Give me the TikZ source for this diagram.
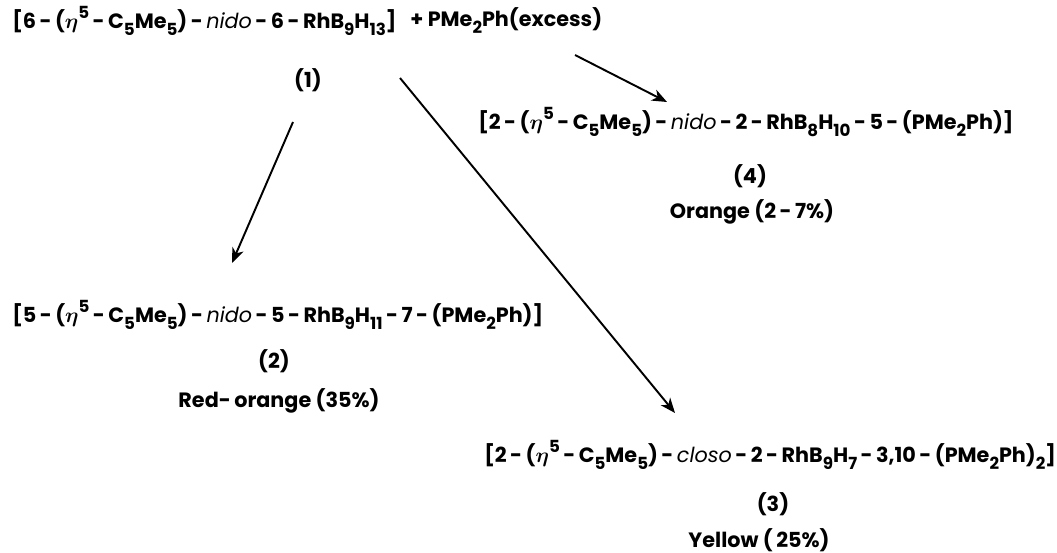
\documentclass[tikz,border=0pt]{standalone}
\usepackage{amsmath}
\usepackage{fontspec}
\setmainfont{Poppins}
\usetikzlibrary{arrows.meta,positioning}
\newcommand{\dn}[1]{\raisebox{-0.6ex}{\fontsize{9.5}{10}\selectfont #1}}
\newcommand{\up}[1]{\raisebox{0.85ex}{\fontsize{9.5}{10}\selectfont #1}}
\newcommand{\hy}{\,-\,}
\newcommand{\etafive}{($\boldsymbol{\eta}$\up{5}}
\newcommand{\cage}[1]{\textit{\mdseries #1}}

\begin{document}
\begin{tikzpicture}[
  x=0.02cm, y=-0.02cm,
  formula/.style={inner sep=0pt, anchor=west, font=\fontsize{11.8}{13}\selectfont\bfseries},
  cmpd/.style={inner sep=0pt, font=\fontsize{11.8}{13}\selectfont\bfseries},
  yield/.style={inner sep=0pt, font=\fontsize{11.8}{13}\selectfont\bfseries},
  arrow/.style={-{Stealth[length=3mm, width=2.4mm, inset=0.9mm]}, line width=1.1pt}
]
\useasboundingbox (0,0) rectangle (1057,553);

% starting rhodaborane and reagent
\node[formula] (f1) at (12,21) {[6\hy\etafive\hy C\dn{5}Me\dn{5})\hy\cage{nido}\hy 6\hy RhB\dn{9}H\dn{13}]};
\node[formula] (reag) at (410,21) {+ PMe\dn{2}Ph(excess)};
\node[cmpd] (lab1) at (308,80) {(1)};

% product 4
\node[formula] (f4) at (478,122) {[2\hy\etafive\hy C\dn{5}Me\dn{5})\hy\cage{nido}\hy 2\hy RhB\dn{8}H\dn{10}\hy 5\hy(PMe\dn{2}Ph)]};
\node[cmpd] (lab4) at (750,176) {(4)};
\node[yield] (col4) at (752,212) {Orange (2\hy 7\%)};

% product 2
\node[formula] (f2) at (12,315) {[5\hy\etafive\hy C\dn{5}Me\dn{5})\hy\cage{nido}\hy 5\hy RhB\dn{9}H\dn{11}\hy 7\hy(PMe\dn{2}Ph)]};
\node[cmpd] (lab2) at (274,361) {(2)};
\node[yield] (col2) at (279,401) {Red-\,orange (35\%)};

% product 3
\node[formula] (f3) at (484,455) {[2\hy\etafive\hy C\dn{5}Me\dn{5})\hy\cage{closo}\hy 2\hy RhB\dn{9}H\dn{7}\hy 3,10\hy(PMe\dn{2}Ph)\dn{2}]};
\node[cmpd] (lab3) at (773,504) {(3)};
\node[yield] (col3) at (759,540) {Yellow (\,25\%)};

% arrow ends
\coordinate (t2) at ([shift={(-15,42)}]lab1.center);
\coordinate (h2) at ([shift={(-42,-98)}]lab2.center);
\coordinate (t3) at ([shift={(92,-2)}]lab1.center);
\coordinate (h3) at ([shift={(-98,-91)}]lab3.center);
\coordinate (t4) at ([shift={(165,34)}]reag.west);
\coordinate (h4) at ([shift={(189,-20)}]f4.west);

\draw[arrow] (t2) -- (h2);
\draw[arrow] (t3) -- (h3);
\draw[arrow] (t4) -- (h4);
\end{tikzpicture}
\end{document}
